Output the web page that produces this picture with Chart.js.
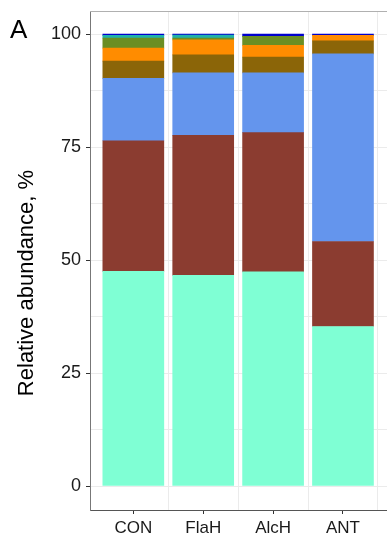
<!DOCTYPE html>
<html>
<head>
<meta charset="utf-8">
<script src="https://cdn.jsdelivr.net/npm/chart.js@4/dist/chart.umd.min.js"></script>
<style>
  html, body { margin: 0; padding: 0; background: #ffffff; }
  #wrap { position: relative; width: 387px; height: 538px; }
</style>
</head>
<body>
<div id="wrap"><canvas id="chart"></canvas></div>
<script>
// Treatment groups along the x axis
const categories = ["CON", "FlaH", "AlcH", "ANT"];

// Relative abundance (%) of each taxon group, stacked bottom to top
const mintValues   = [47.5, 46.6, 47.4, 35.3];
const rustValues   = [28.9, 31.0, 30.8, 18.8];
const blueValues   = [13.8, 13.8, 13.2, 41.5];
const umberValues  = [3.8, 4.0, 3.5, 2.9];
const orangeValues = [2.9, 3.3, 2.6, 1.2];
const oliveValues  = [2.2, 0.4, 2.0, 0.0];
const tealValues   = [0.6, 0.7, 0.0, 0.0];
const navyValues   = [0.3, 0.2, 0.5, 0.3];

// Y axis ticks: labelled majors and unlabelled minors
const yMajorTicks = [0, 25, 50, 75, 100];
const yMinorTicks = [12.5, 37.5, 62.5, 87.5];

const yTitle = "Relative abundance, %";
const panelLetter = "A";
const FONT = "'Liberation Sans', Arial, sans-serif";

const seriesList = [
  { values: mintValues,   color: "#7FFFD4" },
  { values: rustValues,   color: "#8B3C30" },
  { values: blueValues,   color: "#6495ED" },
  { values: umberValues,  color: "#8B6508" },
  { values: orangeValues, color: "#FF8C00" },
  { values: oliveValues,  color: "#6B8E23" },
  { values: tealValues,   color: "#20B2AA" },
  { values: navyValues,   color: "#0000CD" }
];

const datasets = seriesList.map(s => ({
  data: s.values.map((v, i) => ({ x: i, y: v })),
  backgroundColor: s.color,
  borderWidth: 0,
  barThickness: 61
}));

const isInt = v => Math.abs(v - Math.round(v)) < 1e-6;
const isMajorY = v => yMajorTicks.some(t => Math.abs(t - v) < 1e-6);

// Top frame line, rotated y axis title and the panel letter
const panelDecor = {
  id: "panelDecor",
  afterDraw(chart) {
    const { ctx, chartArea } = chart;
    ctx.save();
    ctx.strokeStyle = "#b0b0b0";
    ctx.lineWidth = 1;
    ctx.beginPath();
    ctx.moveTo(chartArea.left, chartArea.top + 0.5);
    ctx.lineTo(chart.width, chartArea.top + 0.5);
    ctx.stroke();

    ctx.fillStyle = "#000000";
    ctx.font = "26px " + FONT;
    ctx.textBaseline = "alphabetic";
    ctx.textAlign = "left";
    ctx.fillText(panelLetter, 10, 38);

    ctx.translate(33, 283);
    ctx.rotate(-Math.PI / 2);
    ctx.font = "22px " + FONT;
    ctx.textAlign = "center";
    ctx.fillText(yTitle, 0, 0);
    ctx.restore();
  }
};

new Chart(document.getElementById("chart"), {
  type: "bar",
  data: { datasets },
  plugins: [panelDecor],
  options: {
    responsive: true,
    maintainAspectRatio: false,
    animation: false,
    layout: { padding: { top: 11, right: 0, bottom: 0, left: 0 } },
    plugins: { legend: { display: false }, tooltip: { enabled: false } },
    scales: {
      x: {
        type: "linear",
        stacked: true,
        offset: false,
        min: -0.62,
        max: 3.63,
        afterBuildTicks(scale) {
          const t = [];
          for (let i = 0; i < categories.length; i++) {
            t.push({ value: i });
            t.push({ value: i + 0.5 });
          }
          scale.ticks = t;
        },
        afterFit(scale) {
          scale.height = 28;
          scale.paddingLeft = 0;
          scale.paddingRight = 0;
        },
        ticks: {
          autoSkip: false,
          maxRotation: 0,
          padding: 4,
          color: "#1a1a1a",
          font: { family: FONT, size: 17 },
          callback: v => (isInt(v) ? categories[Math.round(v)] : "")
        },
        grid: {
          offset: false,
          color: c => (c.tick && isInt(c.tick.value) ? "rgba(0,0,0,0)" : "#ebebeb"),
          tickColor: c => (c.tick && isInt(c.tick.value) ? "#333333" : "rgba(0,0,0,0)"),
          tickLength: 4,
          lineWidth: 1
        },
        border: { color: "#555555", width: 1 }
      },
      y: {
        stacked: true,
        min: -5.3,
        max: 105.1,
        afterBuildTicks(scale) {
          scale.ticks = yMajorTicks.concat(yMinorTicks)
            .sort((a, b) => a - b)
            .map(v => ({ value: v }));
        },
        afterFit(scale) {
          scale.width = 90;
          scale.paddingTop = 0;
          scale.paddingBottom = 0;
        },
        ticks: {
          padding: 5,
          color: "#1a1a1a",
          font: { family: FONT, size: 18 },
          callback: v => (isMajorY(v) ? String(v) : "")
        },
        grid: {
          color: "#ebebeb",
          tickColor: c => (c.tick && isMajorY(c.tick.value) ? "#333333" : "rgba(0,0,0,0)"),
          tickLength: 4,
          lineWidth: 1
        },
        border: { color: "#777777", width: 1 }
      }
    }
  }
});
</script>
</body>
</html>
